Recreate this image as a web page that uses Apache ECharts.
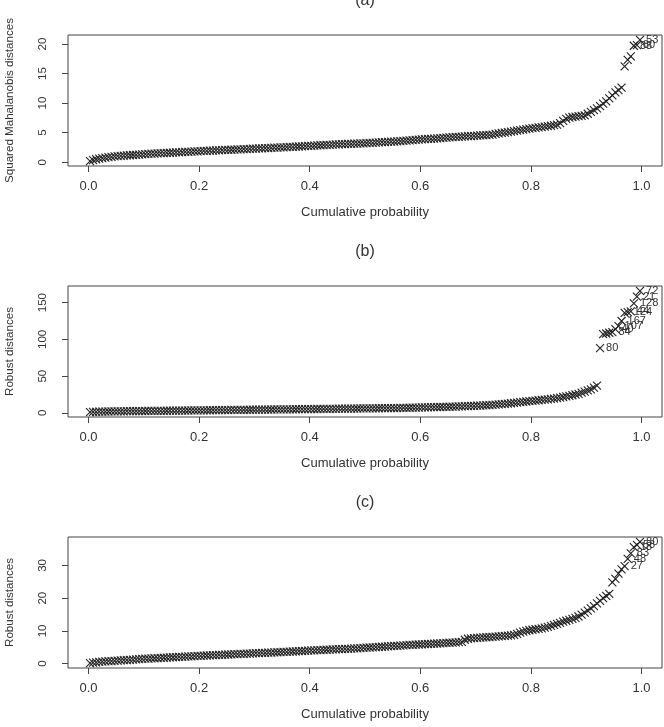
<!DOCTYPE html>
<html>
<head>
<meta charset="utf-8">
<script src="https://cdn.jsdelivr.net/npm/echarts@6/dist/echarts.min.js"></script>
<style>
html,body{margin:0;padding:0;background:#fff}
#chart{width:664px;height:727px}
</style>
</head>
<body>
<div id="chart"></div>
<script>
// sorted distances (n = 180 per panel)
var distA = [
  0.18,0.36,0.50,0.61,0.70,0.78,0.85,0.91,0.97,1.02,
  1.06,1.10,1.14,1.18,1.22,1.26,1.30,1.34,1.38,1.41,
  1.44,1.47,1.50,1.52,1.55,1.57,1.60,1.62,1.65,1.68,1.70,1.73,1.76,1.79,1.82,1.85,
  1.87,1.90,1.92,1.95,1.97,2.00,2.02,2.04,2.07,2.09,2.11,2.14,2.16,2.18,2.21,2.23,2.25,2.28,
  2.30,2.33,2.35,2.37,2.40,2.42,2.45,2.47,2.50,2.52,2.55,2.58,2.60,2.63,2.66,2.69,2.72,2.75,
  2.78,2.81,2.84,2.87,2.90,2.92,2.95,2.97,3.00,3.02,3.05,3.07,3.10,3.12,3.14,3.16,3.18,3.20,
  3.23,3.26,3.29,3.32,3.35,3.38,3.41,3.44,3.47,3.50,3.54,3.57,3.61,3.65,3.69,3.73,3.77,3.81,
  3.85,3.89,3.93,3.96,4.00,4.04,4.07,4.11,4.15,4.19,4.23,4.27,
  4.30,4.33,4.37,4.40,4.43,4.47,4.50,4.53,4.56,4.60,4.64,4.68,4.80,4.88,4.95,
  5.02,5.10,5.18,5.26,5.34,5.42,5.50,5.59,5.68,
  5.75,5.82,5.88,5.95,6.02,6.09,6.17,6.26,6.35,
  6.6,7.0,7.35,7.55,
  7.65,7.72,7.78,7.85,7.92,
  8.2,8.5,8.8,9.1,
  9.5,9.9,10.3,10.8,
  11.3,11.8,12.2,12.6,
  16.2,17.3,17.9,19.7,19.8,20.7
];
var distB = [
  1.0,1.3,1.5,1.6,1.7,1.8,1.9,2.0,2.05,2.1,
  2.15,2.2,2.25,2.3,2.35,2.4,2.45,2.5,2.55,2.6,2.65,2.7,2.75,2.8,2.85,2.9,2.95,3.0,3.05,3.1,
  3.15,3.2,3.25,3.3,3.35,3.4,3.45,3.5,3.55,3.6,3.65,3.7,3.75,3.8,3.85,3.9,3.95,4.0,4.05,4.1,
  4.15,4.2,4.25,4.3,4.35,4.4,4.45,4.5,4.55,4.6,
  4.65,4.7,4.74,4.78,4.82,4.86,4.9,4.95,5.0,5.05,
  5.1,5.14,5.2,5.25,5.3,5.34,5.4,5.45,5.5,5.56,
  5.6,5.65,5.7,5.76,5.8,5.85,5.9,5.96,6.0,6.05,
  6.1,6.15,6.2,6.26,6.3,6.35,6.4,6.46,6.5,6.55,
  6.6,6.7,6.8,6.9,7.0,7.1,7.2,7.3,7.4,7.5,
  7.6,7.7,7.8,7.9,8.0,8.1,8.2,8.35,8.5,8.65,
  8.8,8.95,9.1,9.25,9.4,9.6,9.8,10.0,10.2,10.4,
  10.6,10.9,11.2,11.5,
  11.9,12.3,12.7,13.1,13.5,14.0,14.5,15.0,15.5,16.0,
  16.4,16.8,17.2,17.6,18.0,18.5,19.0,19.5,20.0,
  20.8,21.6,22.4,23.2,24.0,25.0,26.0,
  27.5,29.0,30.5,32.0,34.5,37.0,
  88,
  107,108,109,110,114,118,125,136,137,138,149,158,166
];
var distC = [
  0.15,0.3,0.42,0.52,0.6,0.67,0.74,0.8,0.86,0.92,
  0.98,1.04,1.1,1.17,1.24,1.31,1.38,1.45,
  1.5,1.55,1.6,1.65,1.7,1.75,1.8,1.85,1.9,1.95,2.0,2.05,2.1,2.15,2.2,2.25,2.3,2.35,
  2.4,2.44,2.49,2.53,2.58,2.62,2.66,2.71,2.75,2.79,
  2.83,2.88,2.92,2.96,3.0,3.05,3.09,3.13,3.18,3.22,
  3.26,3.31,3.35,3.39,3.44,3.48,3.53,3.57,3.62,3.66,
  3.71,3.76,3.81,3.86,3.92,3.98,
  4.03,4.07,4.11,4.16,4.2,4.24,4.28,4.33,4.37,4.41,4.45,4.5,4.54,4.58,4.63,4.68,4.73,4.8,
  4.86,4.93,4.99,5.05,5.1,5.16,5.22,5.28,5.34,5.4,5.46,5.52,5.58,5.64,5.7,
  5.75,5.8,5.85,5.9,5.95,6.0,6.05,6.1,6.15,6.2,6.26,6.32,6.38,6.45,6.52,6.6,6.68,
  7.3,7.6,7.75,7.82,7.88,7.94,8.0,8.06,8.12,8.18,8.24,8.3,8.38,8.46,8.55,8.65,8.78,
  9.1,9.5,9.8,10.0,10.2,10.35,10.5,10.65,10.8,11.0,
  11.25,11.55,11.85,12.15,12.45,12.8,
  13.1,13.4,13.7,14.0,14.4,
  15.0,15.6,16.2,16.9,
  17.6,18.4,19.2,20.0,20.7,21.3,
  24.8,25.9,27.5,28.8,29.8,32.0,33.7,35.6,36.3,37.2
];
// [rank (1-based), case label]
var labelsA = [[178,'88'],[179,'80'],[180,'53']];
var labelsB = [[167,'80'],[171,'84'],[172,'40'],[173,'107'],[174,'167'],[176,'124'],[177,'44'],[178,'128'],[179,'21'],[180,'72']];
var labelsC = [[175,'27'],[176,'48'],[177,'83'],[178,'18'],[179,'58'],[180,'80']];

var xTicks = [0, 0.2, 0.4, 0.6, 0.8, 1.0];
var yTicksA = [0, 5, 10, 15, 20];
var yTicksB = [0, 50, 100, 150];
var yTicksC = [0, 10, 20, 30];

var panels = [
  {title:'(a)', ytitle:'Squared Mahalanobis distances', data:distA, labels:labelsA, ticks:yTicksA, top:35},
  {title:'(b)', ytitle:'Robust distances', data:distB, labels:labelsB, ticks:yTicksB, top:286},
  {title:'(c)', ytitle:'Robust distances', data:distC, labels:labelsC, ticks:yTicksC, top:537}
];

var FONT = 'Liberation Sans, Arial, sans-serif';
var INK = '#333';
var crossPath = 'path://M0,0L10,10M10,0L0,10';

// R style range: data range extended by 4% each side
function rng(arr){
  var lo = Math.min.apply(null, arr), hi = Math.max.apply(null, arr);
  var d = (hi - lo) * 0.04;
  return [lo - d, hi + d];
}

var chart = echarts.init(document.getElementById('chart'), null, {renderer:'canvas'});
var grids = [], xAxes = [], yAxes = [], series = [], graphics = [];

panels.forEach(function(p, k){
  var n = p.data.length;
  var names = {};
  p.labels.forEach(function(l){ names[l[0]] = l[1]; });
  var pts = p.data.map(function(v, i){
    var item = {value:[(i + 0.5) / n, v]};
    if (names[i + 1]) { item.name = names[i + 1]; item.label = {show:true}; }
    return item;
  });
  var xr = rng(pts.map(function(d){ return d.value[0]; }));
  var yr = rng(p.data);

  grids.push({left:68, right:2, top:p.top, height:131, outerBoundsMode:'none', containLabel:false,
    show:true, borderColor:'#444', borderWidth:1, backgroundColor:'#fff'});
  xAxes.push({
    type:'value', gridIndex:k, min:xr[0], max:xr[1], position:'bottom',
    name:'Cumulative probability', nameLocation:'middle', nameGap:40,
    nameTextStyle:{fontFamily:FONT, fontSize:13, color:INK},
    axisLine:{show:false, onZero:false},
    axisTick:{show:true, inside:false, length:6, customValues:xTicks, lineStyle:{color:'#444'}},
    axisLabel:{customValues:xTicks, margin:14, fontFamily:FONT, fontSize:13, color:INK,
      formatter:function(v){ return v.toFixed(1); }},
    splitLine:{show:false}
  });
  yAxes.push({
    type:'value', gridIndex:k, min:yr[0], max:yr[1], position:'left',
    name:p.ytitle, nameLocation:'middle', nameGap:52, nameRotate:90,
    nameTextStyle:{fontFamily:FONT, fontSize:11.6, color:INK},
    axisLine:{show:false, onZero:false},
    axisTick:{show:true, inside:false, length:6, customValues:p.ticks, lineStyle:{color:'#444'}},
    axisLabel:{customValues:p.ticks, rotate:90, margin:19, fontFamily:FONT, fontSize:11.5, color:INK},
    splitLine:{show:false}
  });
  series.push({
    type:'scatter', xAxisIndex:k, yAxisIndex:k, data:pts,
    symbol:crossPath, symbolSize:8,
    itemStyle:{color:'rgba(0,0,0,0)', borderColor:'#222', borderWidth:1.1, opacity:1},
    label:{show:false, position:'right', distance:1.5, formatter:'{b}',
      fontFamily:FONT, fontSize:11, color:INK},
    labelLayout:{hideOverlap:false},
    emphasis:{disabled:true}, silent:true
  });
  graphics.push({type:'text', x:365, y:p.top - 34,
    style:{text:p.title, textAlign:'center', textVerticalAlign:'middle',
      font:'16px ' + FONT, fill:INK}});
});

chart.setOption({
  animation:false,
  backgroundColor:'#fff',
  grid:grids, xAxis:xAxes, yAxis:yAxes, series:series,
  graphic:graphics
});
</script>
</body>
</html>
